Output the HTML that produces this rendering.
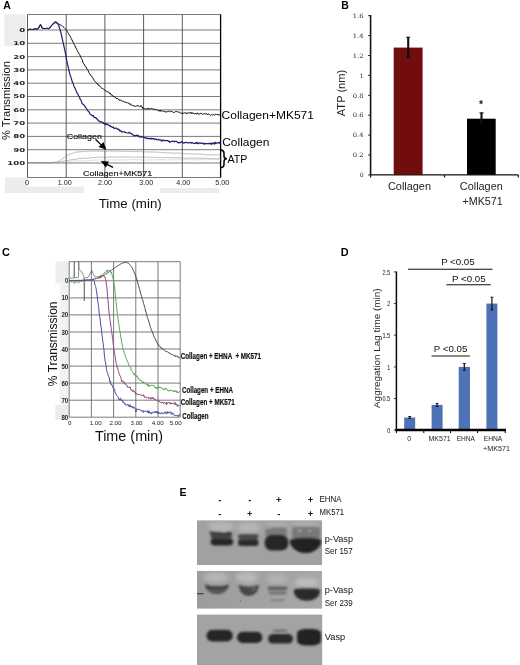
<!DOCTYPE html>
<html lang="en"><head><meta charset="utf-8"><title>Figure</title>
<style>
html,body{margin:0;padding:0;background:#fff;}
body{width:520px;height:665px;overflow:hidden;font-family:"Liberation Sans",sans-serif;}
svg{display:block;}
.ls{font-family:"Liberation Sans",sans-serif;}
.lsb{font-family:"Liberation Sans",sans-serif;font-weight:bold;}
.dv{font-family:"DejaVu Sans",sans-serif;font-weight:bold;fill:#222;}
.dvs{font-family:"DejaVu Serif","Liberation Serif",serif;}
</style></head><body>
<svg width="520" height="665" viewBox="0 0 520 665">
<defs>
<filter id="b1" x="-20%" y="-40%" width="140%" height="180%"><feGaussianBlur stdDeviation="1.0"/></filter>
<filter id="b15" x="-20%" y="-60%" width="140%" height="220%"><feGaussianBlur stdDeviation="1.3"/></filter>
<filter id="b2" x="-30%" y="-80%" width="160%" height="260%"><feGaussianBlur stdDeviation="2.2"/></filter>
<filter id="b12" x="-20%" y="-40%" width="140%" height="180%"><feGaussianBlur stdDeviation="1.3"/></filter>
<filter id="b08" x="-20%" y="-40%" width="140%" height="180%"><feGaussianBlur stdDeviation="0.8"/></filter>
<filter id="soft"><feGaussianBlur stdDeviation="0.4"/></filter>
<linearGradient id="g2" x1="0" x2="1" y1="0" y2="0"><stop offset="0" stop-color="#9c9c9c"/><stop offset="1" stop-color="#a8a8a8"/></linearGradient>
<clipPath id="cb1"><rect x="197.0" y="520.2" width="125.2" height="45"/></clipPath>
<clipPath id="cb2"><rect x="197.0" y="570.8" width="125.2" height="38"/></clipPath>
<clipPath id="cb3"><rect x="197.0" y="614.6" width="125.2" height="51"/></clipPath>
</defs>
<rect width="520" height="665" fill="#fff"/>
<g filter="url(#soft)">
<rect x="4.4" y="14.4" width="21.4" height="31.8" fill="#ededed"/>
<rect x="5" y="177.5" width="22.5" height="15.5" fill="#ececec"/>
<rect x="11.5" y="72" width="5" height="50" fill="#f4f4f4"/>
<rect x="27" y="186.5" width="57" height="6.5" fill="#ececec"/>
<rect x="160" y="188" width="59" height="5" fill="#ececec"/>
<path d="M27.5,14.5H221.0M27.5,30.0H221.0M27.5,43.3H221.0M27.5,56.6H221.0M27.5,69.9H221.0M27.5,83.2H221.0M27.5,96.5H221.0M27.5,109.8H221.0M27.5,123.1H221.0M27.5,136.4H221.0M27.5,149.7H221.0M27.5,163.0H221.0M27.5,177.5H221.0" stroke="#7c7c7c" stroke-width="1.0" fill="none"/>
<path d="M27.5,14.5V177.5M66.2,14.5V177.5M104.9,14.5V177.5M143.6,14.5V177.5M182.3,14.5V177.5" stroke="#4a4a4a" stroke-width="0.9" fill="none"/>
<path d="M220.600,14.5V177.5" stroke="#000" stroke-width="1.3" fill="none"/>
<text transform="translate(25.2,31.9) scale(1.62,1)" text-anchor="end" class="dv" font-size="5.3">0</text>
<text transform="translate(25.2,45.2) scale(1.62,1)" text-anchor="end" class="dv" font-size="5.3">10</text>
<text transform="translate(25.2,58.5) scale(1.62,1)" text-anchor="end" class="dv" font-size="5.3">20</text>
<text transform="translate(25.2,71.8) scale(1.62,1)" text-anchor="end" class="dv" font-size="5.3">30</text>
<text transform="translate(25.2,85.1) scale(1.62,1)" text-anchor="end" class="dv" font-size="5.3">40</text>
<text transform="translate(25.2,98.4) scale(1.62,1)" text-anchor="end" class="dv" font-size="5.3">50</text>
<text transform="translate(25.2,111.7) scale(1.62,1)" text-anchor="end" class="dv" font-size="5.3">60</text>
<text transform="translate(25.2,125.0) scale(1.62,1)" text-anchor="end" class="dv" font-size="5.3">70</text>
<text transform="translate(25.2,138.3) scale(1.62,1)" text-anchor="end" class="dv" font-size="5.3">80</text>
<text transform="translate(25.2,151.6) scale(1.62,1)" text-anchor="end" class="dv" font-size="5.3">90</text>
<text transform="translate(25.2,164.9) scale(1.62,1)" text-anchor="end" class="dv" font-size="5.3">100</text>
<text x="26.9" y="185" text-anchor="middle" class="ls" font-size="7.2" fill="#222">0</text>
<text x="64.7" y="185" text-anchor="middle" class="ls" font-size="7.2" fill="#222">1.00</text>
<text x="105.1" y="185" text-anchor="middle" class="ls" font-size="7.2" fill="#222">2.00</text>
<text x="146.3" y="185" text-anchor="middle" class="ls" font-size="7.2" fill="#222">3.00</text>
<text x="183.2" y="185" text-anchor="middle" class="ls" font-size="7.2" fill="#222">4.00</text>
<text x="222.2" y="185" text-anchor="middle" class="ls" font-size="7.2" fill="#222">5.00</text>
<text x="130.2" y="208.3" text-anchor="middle" class="ls" font-size="13.3" fill="#111">Time (min)</text>
<text transform="translate(9.5,100.6) rotate(-90)" text-anchor="middle" class="ls" font-size="11.2" fill="#111">% Transmission</text>
<text x="3.2" y="9" class="lsb" font-size="10.5">A</text>
<path d="M27.50,162.5 L28.10,162.5 L28.70,162.5 L29.30,162.5 L29.90,162.6 L30.50,162.5 L31.10,162.6 L31.70,162.7 L32.30,162.6 L32.90,162.5 L33.50,162.6 L34.10,162.5 L34.70,162.5 L35.30,162.5 L35.90,162.6 L36.50,162.8 L37.10,162.7 L37.70,162.7 L38.30,162.6 L38.90,162.6 L39.50,162.4 L40.10,162.6 L40.70,162.6 L41.30,162.6 L41.90,162.6 L42.50,162.5 L43.10,162.4 L43.70,162.6 L44.30,162.6 L44.90,162.5 L45.50,162.4 L46.10,162.5 L46.70,162.5 L47.30,162.5 L47.90,162.7 L48.50,162.6 L49.10,162.7 L49.70,162.8 L50.30,162.6 L50.90,162.7 L51.50,162.6 L52.10,162.5 L52.70,162.4 L53.30,162.5 L53.90,162.6 L54.50,162.3 L55.10,162.4 L55.70,162.2 L56.30,162.0 L56.90,162.0 L57.50,161.6 L58.10,161.2 L58.70,161.1 L59.30,160.8 L59.90,160.5 L60.50,160.1 L61.10,159.6 L61.70,159.2 L62.30,159.0 L62.90,158.4 L63.50,158.1 L64.10,157.7 L64.70,157.4 L65.30,156.8 L65.90,156.5 L66.50,156.1 L67.10,155.7 L67.70,155.3 L68.30,154.8 L68.90,154.5 L69.50,154.4 L70.10,154.0 L70.70,153.9 L71.30,153.7 L71.90,153.7 L72.50,153.4 L73.10,153.0 L73.70,152.8 L74.30,152.6 L74.90,152.6 L75.50,152.3 L76.10,152.2 L76.70,152.2 L77.30,152.0 L77.90,151.9 L78.50,151.8 L79.10,151.9 L79.70,151.8 L80.30,151.8 L80.90,151.6 L81.50,151.7 L82.10,151.6 L82.70,151.5 L83.30,151.5 L83.90,151.4 L84.50,151.4 L85.10,151.2 L85.70,151.3 L86.30,151.1 L86.90,151.0 L87.50,151.2 L88.10,151.1 L88.70,151.3 L89.30,151.5 L89.90,151.1 L90.50,151.2 L91.10,151.2 L91.70,151.2 L92.30,151.1 L92.90,151.1 L93.50,151.2 L94.10,151.2 L94.70,151.0 L95.30,151.1 L95.90,151.1 L96.50,151.0 L97.10,151.2 L97.70,151.1 L98.30,151.3 L98.90,151.2 L99.50,151.2 L100.10,151.2 L100.70,151.2 L101.30,151.0 L101.90,151.1 L102.50,151.3 L103.10,151.0 L103.70,151.3 L104.30,151.0 L104.90,151.3 L105.50,151.1 L106.10,151.3 L106.70,151.2 L107.30,151.0 L107.90,151.3 L108.50,151.3 L109.10,151.1 L109.70,151.0 L110.30,151.1 L110.90,151.0 L111.50,151.2 L112.10,151.0 L112.70,151.0 L113.30,151.1 L113.90,151.1 L114.50,150.9 L115.10,151.3 L115.70,151.2 L116.30,151.3 L116.90,151.3 L117.50,151.1 L118.10,151.1 L118.70,151.2 L119.30,151.3 L119.90,151.3 L120.50,151.3 L121.10,151.2 L121.70,151.3 L122.30,151.7 L122.90,151.4 L123.50,151.3 L124.10,151.4 L124.70,151.5 L125.30,151.2 L125.90,151.4 L126.50,151.3 L127.10,151.2 L127.70,151.5 L128.30,151.5 L128.90,151.4 L129.50,151.4 L130.10,151.4 L130.70,151.4 L131.30,151.5 L131.90,151.4 L132.50,151.3 L133.10,151.6 L133.70,151.5 L134.30,151.6 L134.90,151.6 L135.50,151.5 L136.10,151.5 L136.70,151.6 L137.30,151.6 L137.90,151.6 L138.50,151.6 L139.10,151.7 L139.70,151.7 L140.30,151.7 L140.90,151.7 L141.50,151.7 L142.10,151.9 L142.70,151.9 L143.30,151.9 L143.90,151.9 L144.50,151.9 L145.10,151.9 L145.70,151.8 L146.30,151.8 L146.90,152.0 L147.50,151.8 L148.10,152.0 L148.70,152.0 L149.30,152.0 L149.90,152.2 L150.50,152.1 L151.10,151.9 L151.70,151.9 L152.30,152.1 L152.90,152.0 L153.50,152.1 L154.10,152.2 L154.70,152.0 L155.30,151.9 L155.90,152.1 L156.50,152.2 L157.10,152.2 L157.70,152.3 L158.30,152.2 L158.90,152.2 L159.50,152.4 L160.10,152.3 L160.70,152.3 L161.30,152.5 L161.90,152.5 L162.50,152.6 L163.10,152.5 L163.70,152.5 L164.30,152.6 L164.90,152.5 L165.50,152.7 L166.10,152.7 L166.70,152.8 L167.30,152.9 L167.90,153.0 L168.50,152.7 L169.10,153.0 L169.70,153.0 L170.30,153.0 L170.90,152.8 L171.50,152.9 L172.10,153.2 L172.70,153.2 L173.30,153.2 L173.90,153.1 L174.50,153.3 L175.10,153.3 L175.70,153.0 L176.30,153.1 L176.90,152.9 L177.50,152.8 L178.10,153.1 L178.70,153.3 L179.30,153.2 L179.90,153.2 L180.50,153.3 L181.10,153.6 L181.70,153.6 L182.30,153.7 L182.90,153.6 L183.50,153.6 L184.10,153.7 L184.70,153.7 L185.30,153.6 L185.90,153.5 L186.50,153.7 L187.10,153.7 L187.70,153.9 L188.30,153.7 L188.90,153.9 L189.50,153.9 L190.10,153.8 L190.70,154.1 L191.30,154.1 L191.90,153.9 L192.50,154.0 L193.10,153.9 L193.70,153.7 L194.30,153.9 L194.90,153.9 L195.50,154.0 L196.10,153.9 L196.70,153.9 L197.30,153.9 L197.90,154.1 L198.50,154.1 L199.10,154.1 L199.70,154.3 L200.30,154.2 L200.90,154.2 L201.50,154.1 L202.10,154.4 L202.70,154.4 L203.30,154.5 L203.90,154.6 L204.50,154.5 L205.10,154.7 L205.70,154.7 L206.30,154.7 L206.90,154.7 L207.50,154.9 L208.10,154.8 L208.70,154.8 L209.30,154.7 L209.90,154.7 L210.50,155.0 L211.10,155.0 L211.70,155.0 L212.30,154.8 L212.90,154.8 L213.50,154.9 L214.10,155.1 L214.70,155.0 L215.30,154.9 L215.90,154.9 L216.50,155.0 L217.10,154.8 L217.70,154.9 L218.30,154.9 L218.90,155.1 L219.50,155.0 L220.10,155.2 L220.70,155.3" stroke="#777780" stroke-width="0.5" fill="none"/>
<path d="M27.50,162.7 L28.10,162.6 L28.70,162.7 L29.30,162.6 L29.90,162.7 L30.50,162.4 L31.10,162.4 L31.70,162.6 L32.30,162.4 L32.90,162.5 L33.50,162.5 L34.10,162.4 L34.70,162.6 L35.30,162.5 L35.90,162.7 L36.50,162.6 L37.10,162.6 L37.70,162.8 L38.30,162.9 L38.90,162.9 L39.50,162.7 L40.10,162.7 L40.70,162.8 L41.30,162.6 L41.90,162.5 L42.50,162.6 L43.10,162.6 L43.70,162.5 L44.30,162.4 L44.90,162.5 L45.50,162.7 L46.10,162.6 L46.70,162.7 L47.30,162.8 L47.90,162.9 L48.50,162.7 L49.10,162.8 L49.70,162.7 L50.30,162.7 L50.90,162.6 L51.50,162.7 L52.10,162.5 L52.70,162.4 L53.30,162.4 L53.90,162.4 L54.50,162.5 L55.10,162.2 L55.70,162.3 L56.30,162.4 L56.90,162.6 L57.50,162.4 L58.10,162.1 L58.70,162.0 L59.30,162.0 L59.90,161.7 L60.50,161.5 L61.10,161.6 L61.70,161.4 L62.30,161.4 L62.90,161.2 L63.50,161.3 L64.10,161.1 L64.70,161.0 L65.30,160.9 L65.90,160.6 L66.50,160.7 L67.10,160.6 L67.70,160.5 L68.30,160.5 L68.90,160.2 L69.50,160.1 L70.10,160.1 L70.70,159.9 L71.30,159.9 L71.90,159.8 L72.50,159.6 L73.10,159.4 L73.70,159.5 L74.30,159.4 L74.90,159.5 L75.50,159.5 L76.10,159.2 L76.70,158.9 L77.30,158.9 L77.90,158.9 L78.50,158.8 L79.10,158.7 L79.70,158.4 L80.30,158.6 L80.90,158.4 L81.50,158.5 L82.10,158.3 L82.70,158.3 L83.30,158.2 L83.90,158.1 L84.50,158.0 L85.10,157.9 L85.70,158.1 L86.30,158.4 L86.90,158.3 L87.50,158.3 L88.10,158.2 L88.70,158.1 L89.30,158.2 L89.90,157.9 L90.50,157.8 L91.10,157.8 L91.70,157.7 L92.30,157.5 L92.90,157.5 L93.50,157.4 L94.10,157.4 L94.70,157.7 L95.30,157.4 L95.90,157.5 L96.50,157.4 L97.10,157.4 L97.70,157.2 L98.30,157.2 L98.90,157.3 L99.50,157.2 L100.10,157.1 L100.70,157.3 L101.30,157.1 L101.90,157.2 L102.50,157.2 L103.10,157.4 L103.70,157.1 L104.30,157.2 L104.90,157.3 L105.50,157.4 L106.10,157.5 L106.70,157.5 L107.30,157.1 L107.90,157.3 L108.50,157.2 L109.10,157.1 L109.70,157.2 L110.30,157.0 L110.90,156.8 L111.50,157.0 L112.10,156.9 L112.70,157.0 L113.30,157.1 L113.90,157.1 L114.50,157.2 L115.10,157.1 L115.70,157.0 L116.30,157.1 L116.90,157.1 L117.50,157.0 L118.10,157.1 L118.70,157.1 L119.30,156.9 L119.90,157.1 L120.50,157.0 L121.10,157.1 L121.70,157.0 L122.30,157.1 L122.90,157.0 L123.50,157.1 L124.10,156.9 L124.70,156.9 L125.30,156.9 L125.90,156.7 L126.50,156.9 L127.10,156.8 L127.70,156.9 L128.30,156.8 L128.90,157.1 L129.50,157.1 L130.10,157.0 L130.70,156.9 L131.30,157.1 L131.90,157.3 L132.50,157.2 L133.10,157.3 L133.70,157.2 L134.30,157.3 L134.90,157.1 L135.50,157.1 L136.10,157.1 L136.70,157.3 L137.30,157.0 L137.90,157.1 L138.50,157.1 L139.10,157.3 L139.70,157.1 L140.30,157.2 L140.90,157.3 L141.50,157.2 L142.10,157.1 L142.70,157.1 L143.30,156.9 L143.90,157.0 L144.50,157.1 L145.10,157.1 L145.70,157.1 L146.30,157.0 L146.90,157.2 L147.50,157.4 L148.10,157.3 L148.70,157.2 L149.30,157.1 L149.90,157.3 L150.50,157.2 L151.10,157.1 L151.70,157.2 L152.30,157.4 L152.90,157.3 L153.50,157.5 L154.10,157.2 L154.70,157.5 L155.30,157.3 L155.90,157.3 L156.50,157.6 L157.10,157.4 L157.70,157.3 L158.30,157.4 L158.90,157.5 L159.50,157.6 L160.10,157.5 L160.70,157.5 L161.30,157.7 L161.90,157.8 L162.50,157.8 L163.10,157.8 L163.70,157.8 L164.30,157.8 L164.90,157.6 L165.50,157.7 L166.10,157.8 L166.70,157.6 L167.30,157.5 L167.90,157.5 L168.50,157.8 L169.10,157.5 L169.70,157.6 L170.30,157.7 L170.90,157.8 L171.50,157.7 L172.10,157.8 L172.70,157.7 L173.30,157.8 L173.90,157.8 L174.50,157.7 L175.10,157.8 L175.70,157.8 L176.30,157.6 L176.90,157.7 L177.50,157.8 L178.10,157.6 L178.70,157.8 L179.30,157.7 L179.90,158.0 L180.50,158.1 L181.10,158.1 L181.70,157.9 L182.30,158.0 L182.90,158.0 L183.50,158.0 L184.10,158.2 L184.70,158.0 L185.30,158.3 L185.90,158.2 L186.50,158.3 L187.10,158.1 L187.70,158.0 L188.30,158.1 L188.90,158.1 L189.50,158.0 L190.10,158.1 L190.70,158.1 L191.30,157.9 L191.90,158.3 L192.50,158.3 L193.10,158.3 L193.70,158.2 L194.30,158.2 L194.90,158.1 L195.50,158.0 L196.10,158.0 L196.70,158.2 L197.30,157.9 L197.90,158.2 L198.50,158.2 L199.10,158.1 L199.70,158.4 L200.30,158.2 L200.90,158.1 L201.50,158.2 L202.10,158.4 L202.70,158.3 L203.30,158.2 L203.90,158.3 L204.50,158.4 L205.10,158.2 L205.70,158.4 L206.30,158.3 L206.90,158.4 L207.50,158.4 L208.10,158.5 L208.70,158.5 L209.30,158.5 L209.90,158.5 L210.50,158.7 L211.10,158.6 L211.70,158.7 L212.30,158.7 L212.90,158.6 L213.50,158.8 L214.10,158.5 L214.70,158.7 L215.30,158.5 L215.90,158.8 L216.50,158.9 L217.10,158.6 L217.70,158.6 L218.30,158.7 L218.90,158.6 L219.50,158.5 L220.10,158.4 L220.70,158.3" stroke="#777780" stroke-width="0.5" fill="none"/>
<path d="M27.50,162.7 L28.10,162.5 L28.70,162.6 L29.30,162.5 L29.90,162.5 L30.50,162.5 L31.10,162.5 L31.70,162.5 L32.30,162.5 L32.90,162.6 L33.50,162.6 L34.10,162.6 L34.70,162.8 L35.30,162.5 L35.90,162.6 L36.50,162.6 L37.10,162.7 L37.70,162.6 L38.30,162.5 L38.90,162.7 L39.50,162.5 L40.10,162.7 L40.70,162.5 L41.30,162.6 L41.90,162.6 L42.50,162.4 L43.10,162.5 L43.70,162.6 L44.30,162.7 L44.90,162.6 L45.50,162.6 L46.10,162.5 L46.70,162.8 L47.30,162.8 L47.90,162.7 L48.50,162.7 L49.10,162.6 L49.70,162.8 L50.30,162.9 L50.90,162.7 L51.50,162.7 L52.10,162.5 L52.70,162.4 L53.30,162.6 L53.90,162.4 L54.50,162.5 L55.10,162.5 L55.70,162.6 L56.30,162.6 L56.90,162.5 L57.50,162.5 L58.10,162.4 L58.70,162.5 L59.30,162.5 L59.90,162.4 L60.50,162.4 L61.10,162.4 L61.70,162.2 L62.30,162.3 L62.90,162.2 L63.50,162.3 L64.10,162.3 L64.70,162.4 L65.30,161.9 L65.90,161.9 L66.50,162.0 L67.10,161.8 L67.70,161.7 L68.30,161.8 L68.90,161.5 L69.50,161.5 L70.10,161.4 L70.70,161.5 L71.30,161.4 L71.90,161.2 L72.50,161.1 L73.10,161.2 L73.70,161.2 L74.30,161.1 L74.90,161.2 L75.50,161.1 L76.10,160.9 L76.70,161.0 L77.30,161.1 L77.90,160.9 L78.50,160.8 L79.10,160.9 L79.70,160.9 L80.30,161.0 L80.90,160.7 L81.50,161.1 L82.10,160.9 L82.70,161.0 L83.30,161.0 L83.90,161.0 L84.50,160.9 L85.10,160.8 L85.70,160.9 L86.30,160.7 L86.90,160.5 L87.50,160.9 L88.10,160.7 L88.70,160.7 L89.30,160.4 L89.90,160.6 L90.50,160.6 L91.10,160.5 L91.70,160.3 L92.30,160.2 L92.90,160.3 L93.50,160.1 L94.10,160.0 L94.70,160.1 L95.30,160.1 L95.90,160.1 L96.50,160.0 L97.10,160.2 L97.70,160.1 L98.30,160.1 L98.90,160.1 L99.50,159.9 L100.10,160.0 L100.70,160.1 L101.30,159.9 L101.90,160.0 L102.50,159.8 L103.10,160.0 L103.70,160.2 L104.30,159.9 L104.90,160.0 L105.50,159.9 L106.10,159.9 L106.70,160.0 L107.30,160.2 L107.90,160.2 L108.50,160.1 L109.10,160.0 L109.70,160.0 L110.30,159.9 L110.90,160.0 L111.50,159.9 L112.10,160.0 L112.70,160.0 L113.30,160.0 L113.90,160.1 L114.50,159.9 L115.10,160.0 L115.70,159.9 L116.30,160.0 L116.90,160.0 L117.50,160.0 L118.10,160.0 L118.70,159.8 L119.30,159.9 L119.90,159.9 L120.50,159.9 L121.10,160.0 L121.70,160.0 L122.30,159.9 L122.90,160.0 L123.50,159.8 L124.10,160.1 L124.70,159.9 L125.30,159.8 L125.90,160.2 L126.50,160.1 L127.10,159.8 L127.70,160.0 L128.30,159.9 L128.90,159.8 L129.50,159.7 L130.10,159.7 L130.70,159.8 L131.30,159.8 L131.90,159.8 L132.50,159.7 L133.10,159.9 L133.70,159.7 L134.30,159.7 L134.90,159.6 L135.50,159.6 L136.10,159.8 L136.70,159.7 L137.30,159.8 L137.90,159.7 L138.50,159.8 L139.10,159.8 L139.70,159.8 L140.30,159.8 L140.90,160.0 L141.50,159.9 L142.10,159.9 L142.70,159.8 L143.30,160.0 L143.90,159.9 L144.50,160.0 L145.10,160.1 L145.70,160.0 L146.30,159.9 L146.90,160.0 L147.50,159.9 L148.10,159.9 L148.70,159.9 L149.30,159.9 L149.90,159.9 L150.50,160.0 L151.10,159.8 L151.70,159.8 L152.30,159.8 L152.90,160.0 L153.50,159.9 L154.10,160.0 L154.70,159.8 L155.30,159.8 L155.90,159.7 L156.50,159.8 L157.10,159.9 L157.70,159.6 L158.30,159.8 L158.90,159.9 L159.50,159.8 L160.10,159.8 L160.70,159.8 L161.30,159.6 L161.90,159.7 L162.50,159.6 L163.10,159.7 L163.70,159.7 L164.30,159.8 L164.90,159.9 L165.50,159.9 L166.10,159.8 L166.70,160.1 L167.30,160.0 L167.90,159.9 L168.50,159.8 L169.10,159.9 L169.70,160.0 L170.30,159.9 L170.90,159.8 L171.50,159.9 L172.10,160.1 L172.70,159.7 L173.30,159.9 L173.90,159.9 L174.50,159.8 L175.10,160.0 L175.70,159.8 L176.30,159.8 L176.90,160.0 L177.50,159.9 L178.10,159.7 L178.70,159.8 L179.30,159.7 L179.90,159.9 L180.50,159.7 L181.10,159.8 L181.70,159.6 L182.30,159.8 L182.90,159.8 L183.50,159.7 L184.10,159.8 L184.70,159.7 L185.30,159.7 L185.90,159.9 L186.50,159.7 L187.10,159.6 L187.70,159.7 L188.30,159.7 L188.90,159.8 L189.50,159.6 L190.10,159.5 L190.70,159.6 L191.30,159.8 L191.90,159.8 L192.50,159.8 L193.10,159.8 L193.70,159.8 L194.30,159.8 L194.90,159.9 L195.50,159.8 L196.10,159.6 L196.70,159.7 L197.30,159.8 L197.90,159.8 L198.50,159.7 L199.10,159.7 L199.70,159.7 L200.30,159.5 L200.90,159.5 L201.50,159.7 L202.10,159.6 L202.70,159.6 L203.30,159.7 L203.90,159.8 L204.50,159.7 L205.10,159.9 L205.70,159.9 L206.30,159.8 L206.90,159.9 L207.50,159.8 L208.10,159.7 L208.70,159.8 L209.30,159.8 L209.90,159.6 L210.50,159.7 L211.10,159.7 L211.70,159.7 L212.30,159.6 L212.90,159.7 L213.50,159.7 L214.10,159.7 L214.70,159.6 L215.30,159.7 L215.90,159.6 L216.50,159.6 L217.10,159.7 L217.70,159.5 L218.30,159.5 L218.90,159.6 L219.50,159.5 L220.10,159.5 L220.70,159.5" stroke="#a8a8b0" stroke-width="0.4" fill="none"/>
<path d="M27.50,30.0 L28.10,29.8 L28.70,29.6 L29.30,29.4 L29.90,29.2 L30.50,29.3 L31.10,29.4 L31.70,29.5 L32.30,29.5 L32.90,29.4 L33.50,29.2 L34.10,29.0 L34.70,28.9 L35.30,28.9 L35.90,29.0 L36.50,29.1 L37.10,29.1 L37.70,28.8 L38.30,28.5 L38.90,27.6 L39.50,26.3 L40.10,25.0 L40.70,24.7 L41.30,26.2 L41.90,27.7 L42.50,28.2 L43.10,28.3 L43.70,28.5 L44.30,28.6 L44.90,28.5 L45.50,28.5 L46.10,28.5 L46.70,28.4 L47.30,28.4 L47.90,28.5 L48.50,28.6 L49.10,28.5 L49.70,27.8 L50.30,27.0 L50.90,26.3 L51.50,25.6 L52.10,24.9 L52.70,24.3 L53.30,23.8 L53.90,23.2 L54.50,22.7 L55.10,22.6 L55.70,22.8 L56.30,23.0 L56.90,23.2 L57.50,23.4 L58.10,23.7 L58.70,24.0 L59.30,24.3 L59.90,24.6 L60.50,24.9 L61.10,25.2 L61.70,25.5 L62.30,25.9 L62.90,26.5 L63.50,27.1 L64.10,27.6 L64.70,28.2 L65.30,28.8 L65.90,29.4 L66.50,30.3 L67.10,31.3 L67.70,32.3 L68.30,33.2 L68.90,34.2 L69.50,35.2 L70.10,36.2 L70.70,37.4 L71.30,38.6 L71.90,39.8 L72.50,41.0 L73.10,42.2 L73.70,43.4 L74.30,44.6 L74.90,45.8 L75.50,47.0 L76.10,48.2 L76.70,49.4 L77.30,50.6 L77.90,51.8 L78.50,52.9 L79.10,54.2 L79.70,54.6 L80.30,56.1 L80.90,57.3 L81.50,58.7 L82.10,59.4 L82.70,61.8 L83.30,63.3 L83.90,63.8 L84.50,64.9 L85.10,66.4 L85.70,66.8 L86.30,67.1 L86.90,68.8 L87.50,69.5 L88.10,70.4 L88.70,72.4 L89.30,73.2 L89.90,74.1 L90.50,75.2 L91.10,75.5 L91.70,76.1 L92.30,77.5 L92.90,78.1 L93.50,79.0 L94.10,80.2 L94.70,81.0 L95.30,81.7 L95.90,82.5 L96.50,82.9 L97.10,83.8 L97.70,83.8 L98.30,85.3 L98.90,85.1 L99.50,86.0 L100.10,86.2 L100.70,87.0 L101.30,87.8 L101.90,88.6 L102.50,88.4 L103.10,89.0 L103.70,89.2 L104.30,89.7 L104.90,90.0 L105.50,90.8 L106.10,90.7 L106.70,91.5 L107.30,91.8 L107.90,92.1 L108.50,92.2 L109.10,92.5 L109.70,93.9 L110.30,93.2 L110.90,94.8 L111.50,95.0 L112.10,95.2 L112.70,95.3 L113.30,96.5 L113.90,97.1 L114.50,96.7 L115.10,97.1 L115.70,97.9 L116.30,98.0 L116.90,99.0 L117.50,98.5 L118.10,99.1 L118.70,99.0 L119.30,100.6 L119.90,100.1 L120.50,99.9 L121.10,100.8 L121.70,100.7 L122.30,101.7 L122.90,101.1 L123.50,101.3 L124.10,101.7 L124.70,102.1 L125.30,101.8 L125.90,102.7 L126.50,102.7 L127.10,102.7 L127.70,102.7 L128.30,103.0 L128.90,103.1 L129.50,104.3 L130.10,103.7 L130.70,104.8 L131.30,105.1 L131.90,105.2 L132.50,105.4 L133.10,105.8 L133.70,105.9 L134.30,106.1 L134.90,106.1 L135.50,106.4 L136.10,106.0 L136.70,106.1 L137.30,105.3 L137.90,106.2 L138.50,105.9 L139.10,105.8 L139.70,106.5 L140.30,106.3 L140.90,105.5 L141.50,107.0 L142.10,106.7 L142.70,108.2 L143.30,109.0 L143.90,108.1 L144.50,108.7 L145.10,108.7 L145.70,108.9 L146.30,109.2 L146.90,109.2 L147.50,108.3 L148.10,109.2 L148.70,108.3 L149.30,108.7 L149.90,108.9 L150.50,108.6 L151.10,108.3 L151.70,108.5 L152.30,108.8 L152.90,108.9 L153.50,109.3 L154.10,108.7 L154.70,109.5 L155.30,109.5 L155.90,109.7 L156.50,109.7 L157.10,110.4 L157.70,110.3 L158.30,110.6 L158.90,110.6 L159.50,111.3 L160.10,110.1 L160.70,111.3 L161.30,110.9 L161.90,111.0 L162.50,110.9 L163.10,110.9 L163.70,111.4 L164.30,111.4 L164.90,111.9 L165.50,111.4 L166.10,112.4 L166.70,111.7 L167.30,111.6 L167.90,111.5 L168.50,111.3 L169.10,111.2 L169.70,111.2 L170.30,111.6 L170.90,112.0 L171.50,111.3 L172.10,111.7 L172.70,111.7 L173.30,112.4 L173.90,112.9 L174.50,112.1 L175.10,111.8 L175.70,111.5 L176.30,111.6 L176.90,111.3 L177.50,112.0 L178.10,111.9 L178.70,112.2 L179.30,112.2 L179.90,112.5 L180.50,113.3 L181.10,113.0 L181.70,113.1 L182.30,112.9 L182.90,113.8 L183.50,113.0 L184.10,113.2 L184.70,112.8 L185.30,112.5 L185.90,113.4 L186.50,113.9 L187.10,112.7 L187.70,113.5 L188.30,113.0 L188.90,112.5 L189.50,112.9 L190.10,112.7 L190.70,112.6 L191.30,113.7 L191.90,112.4 L192.50,113.4 L193.10,113.6 L193.70,113.3 L194.30,113.7 L194.90,113.8 L195.50,113.6 L196.10,113.8 L196.70,113.9 L197.30,112.8 L197.90,114.1 L198.50,114.3 L199.10,114.1 L199.70,114.0 L200.30,113.1 L200.90,113.6 L201.50,113.7 L202.10,113.7 L202.70,114.5 L203.30,113.8 L203.90,114.0 L204.50,113.6 L205.10,114.0 L205.70,113.9 L206.30,113.7 L206.90,113.8 L207.50,114.9 L208.10,113.9 L208.70,114.2 L209.30,114.4 L209.90,115.1 L210.50,115.6 L211.10,114.9 L211.70,114.7 L212.30,114.8 L212.90,115.0 L213.50,114.6 L214.10,115.2 L214.70,115.1 L215.30,114.3 L215.90,114.3 L216.50,114.4 L217.10,115.0 L217.70,114.1 L218.30,115.1 L218.90,114.7 L219.50,114.9 L220.10,115.1 L220.70,114.9" stroke="#0a0a0a" stroke-width="1.0" fill="none" stroke-linejoin="round"/>
<path d="M27.50,30.0 L28.10,29.8 L28.70,29.6 L29.30,29.4 L29.90,29.2 L30.50,29.3 L31.10,29.4 L31.70,29.5 L32.30,29.5 L32.90,29.4 L33.50,29.2 L34.10,29.0 L34.70,28.9 L35.30,28.9 L35.90,29.0 L36.50,29.1 L37.10,29.1 L37.70,28.8 L38.30,28.5 L38.90,27.6 L39.50,26.3 L40.10,25.0 L40.70,24.7 L41.30,26.2 L41.90,27.7 L42.50,28.2 L43.10,28.3 L43.70,28.5 L44.30,28.6 L44.90,28.5 L45.50,28.5 L46.10,28.5 L46.70,28.4 L47.30,28.4 L47.90,28.5 L48.50,28.6 L49.10,28.5 L49.70,27.8 L50.30,27.0 L50.90,26.3 L51.50,25.6 L52.10,24.9 L52.70,24.3 L53.30,23.8 L53.90,23.2 L54.50,22.7 L55.10,21.7 L55.70,22.0 L56.30,22.3 L56.90,22.6 L57.50,23.5 L58.10,24.5 L58.70,25.5 L59.30,27.1 L59.90,29.2 L60.50,31.3 L61.10,33.5 L61.70,36.2 L62.30,38.9 L62.90,41.6 L63.50,44.3 L64.10,47.0 L64.70,49.7 L65.30,52.6 L65.90,55.7 L66.50,59.3 L67.10,62.2 L67.70,64.9 L68.30,67.1 L68.90,70.5 L69.50,72.7 L70.10,75.0 L70.70,76.4 L71.30,78.6 L71.90,80.5 L72.50,82.4 L73.10,83.1 L73.70,85.4 L74.30,87.4 L74.90,87.9 L75.50,89.3 L76.10,90.9 L76.70,92.2 L77.30,93.5 L77.90,93.9 L78.50,95.9 L79.10,96.3 L79.70,97.9 L80.30,99.5 L80.90,100.1 L81.50,101.6 L82.10,103.6 L82.70,103.9 L83.30,104.7 L83.90,104.9 L84.50,105.9 L85.10,106.7 L85.70,107.6 L86.30,108.2 L86.90,109.3 L87.50,110.6 L88.10,111.0 L88.70,111.6 L89.30,112.4 L89.90,113.9 L90.50,114.1 L91.10,114.7 L91.70,115.4 L92.30,115.3 L92.90,116.0 L93.50,115.7 L94.10,117.3 L94.70,117.4 L95.30,117.8 L95.90,117.5 L96.50,118.8 L97.10,118.8 L97.70,119.6 L98.30,120.6 L98.90,120.9 L99.50,121.1 L100.10,122.1 L100.70,121.6 L101.30,122.0 L101.90,122.1 L102.50,122.3 L103.10,123.1 L103.70,122.6 L104.30,124.1 L104.90,123.5 L105.50,124.6 L106.10,123.7 L106.70,124.5 L107.30,123.9 L107.90,124.4 L108.50,125.2 L109.10,125.6 L109.70,125.4 L110.30,126.5 L110.90,126.2 L111.50,126.9 L112.10,127.1 L112.70,127.5 L113.30,127.0 L113.90,128.3 L114.50,128.6 L115.10,128.1 L115.70,128.2 L116.30,128.2 L116.90,128.4 L117.50,129.3 L118.10,129.5 L118.70,129.1 L119.30,130.1 L119.90,131.2 L120.50,130.6 L121.10,130.9 L121.70,132.1 L122.30,131.9 L122.90,132.0 L123.50,131.7 L124.10,131.5 L124.70,132.0 L125.30,132.5 L125.90,132.6 L126.50,132.8 L127.10,133.0 L127.70,133.0 L128.30,133.1 L128.90,132.5 L129.50,132.2 L130.10,133.1 L130.70,133.4 L131.30,133.6 L131.90,134.3 L132.50,134.1 L133.10,134.9 L133.70,135.6 L134.30,135.9 L134.90,135.6 L135.50,135.7 L136.10,135.3 L136.70,135.2 L137.30,135.6 L137.90,136.1 L138.50,135.5 L139.10,136.4 L139.70,137.1 L140.30,137.0 L140.90,136.3 L141.50,137.2 L142.10,137.0 L142.70,136.7 L143.30,136.8 L143.90,137.3 L144.50,137.6 L145.10,137.7 L145.70,138.5 L146.30,138.0 L146.90,137.9 L147.50,138.7 L148.10,138.4 L148.70,138.7 L149.30,138.1 L149.90,138.8 L150.50,138.5 L151.10,139.0 L151.70,138.2 L152.30,139.0 L152.90,138.6 L153.50,138.5 L154.10,138.9 L154.70,139.6 L155.30,139.0 L155.90,138.9 L156.50,139.7 L157.10,140.0 L157.70,139.8 L158.30,139.2 L158.90,139.6 L159.50,140.1 L160.10,139.9 L160.70,139.9 L161.30,140.8 L161.90,141.1 L162.50,140.2 L163.10,139.9 L163.70,140.6 L164.30,140.5 L164.90,140.7 L165.50,140.7 L166.10,140.6 L166.70,140.4 L167.30,140.8 L167.90,140.6 L168.50,141.3 L169.10,141.2 L169.70,142.4 L170.30,141.9 L170.90,141.5 L171.50,141.3 L172.10,141.5 L172.70,141.0 L173.30,141.2 L173.90,141.2 L174.50,141.8 L175.10,141.3 L175.70,141.5 L176.30,141.3 L176.90,141.6 L177.50,142.4 L178.10,142.7 L178.70,143.0 L179.30,142.3 L179.90,142.8 L180.50,142.4 L181.10,142.3 L181.70,141.6 L182.30,141.7 L182.90,142.9 L183.50,143.1 L184.10,142.6 L184.70,143.0 L185.30,142.4 L185.90,142.3 L186.50,142.3 L187.10,142.9 L187.70,142.8 L188.30,142.7 L188.90,142.7 L189.50,143.0 L190.10,142.8 L190.70,142.3 L191.30,143.2 L191.90,142.6 L192.50,142.6 L193.10,143.3 L193.70,143.5 L194.30,143.2 L194.90,143.6 L195.50,143.0 L196.10,143.3 L196.70,142.4 L197.30,143.6 L197.90,142.8 L198.50,143.7 L199.10,143.1 L199.70,142.9 L200.30,142.8 L200.90,143.3 L201.50,143.3 L202.10,143.4 L202.70,143.2 L203.30,143.8 L203.90,143.2 L204.50,144.1 L205.10,143.8 L205.70,143.6 L206.30,143.8 L206.90,143.6 L207.50,143.5 L208.10,143.8 L208.70,143.4 L209.30,143.4 L209.90,144.0 L210.50,143.2 L211.10,143.6 L211.70,144.4 L212.30,142.9 L212.90,143.5 L213.50,143.8 L214.10,142.8 L214.70,144.1 L215.30,142.2 L215.90,143.4 L216.50,143.1 L217.10,142.9 L217.70,142.7 L218.30,143.0 L218.90,142.6 L219.50,143.1 L220.10,142.2 L220.70,142.7" stroke="#20206c" stroke-width="1.2" fill="none" stroke-linejoin="round"/>
<text x="66.7" y="138.6" class="ls" font-size="8.1" fill="#111" stroke="#111" stroke-width="0.15" textLength="35.2" lengthAdjust="spacingAndGlyphs">Collagen</text>
<text x="83" y="175.7" class="ls" font-size="7.9" fill="#111" stroke="#111" stroke-width="0.15" textLength="69.3" lengthAdjust="spacingAndGlyphs">Collagen+MK571</text>
<path d="M95.6,139.5L101.5,145.1" stroke="#000" stroke-width="1.3"/><path d="M106.4,149.8L98.6,147.1L103.4,142.1Z" fill="#000"/>
<path d="M113,167.4L107,164.3" stroke="#000" stroke-width="1.3"/><path d="M100.8,161L108.9,161.6L105.9,167.4Z" fill="#000"/>
<text x="221.6" y="118.6" class="ls" font-size="10.7" fill="#000" textLength="92.3" lengthAdjust="spacingAndGlyphs">Collagen+MK571</text>
<text x="222.2" y="146.4" class="ls" font-size="10.7" fill="#000" textLength="47.2" lengthAdjust="spacingAndGlyphs">Collagen</text>
<text x="227.5" y="163.4" class="ls" font-size="10.7" fill="#000">ATP</text>
<path d="M220.8,149.9c2.6,0.2 3.2,1.4 3.2,3.2v3c0,1.600 0.800,2.500 2.800,2.700c-2,0.200 -2.800,1.100 -2.800,2.700v3c0,1.800 -0.600,3 -3.200,3.200" stroke="#000" stroke-width="1.5" fill="none"/>
<text x="341.3" y="9" class="lsb" font-size="10.5">B</text>
<text x="363.6" y="177.1" text-anchor="end" class="dvs" font-size="6" fill="#2a2a2a" textLength="3.9" lengthAdjust="spacingAndGlyphs">0</text>
<path d="M368.20000000000005,174.9H370.6" stroke="#1a1a1a" stroke-width="1"/>
<text x="363.6" y="157.2" text-anchor="end" class="dvs" font-size="6" fill="#2a2a2a" textLength="10.8" lengthAdjust="spacingAndGlyphs">0.2</text>
<path d="M368.20000000000005,155.0H370.6" stroke="#1a1a1a" stroke-width="1"/>
<text x="363.6" y="137.3" text-anchor="end" class="dvs" font-size="6" fill="#2a2a2a" textLength="10.8" lengthAdjust="spacingAndGlyphs">0.4</text>
<path d="M368.20000000000005,135.1H370.6" stroke="#1a1a1a" stroke-width="1"/>
<text x="363.6" y="117.4" text-anchor="end" class="dvs" font-size="6" fill="#2a2a2a" textLength="10.8" lengthAdjust="spacingAndGlyphs">0.6</text>
<path d="M368.20000000000005,115.2H370.6" stroke="#1a1a1a" stroke-width="1"/>
<text x="363.6" y="97.5" text-anchor="end" class="dvs" font-size="6" fill="#2a2a2a" textLength="10.8" lengthAdjust="spacingAndGlyphs">0.8</text>
<path d="M368.20000000000005,95.3H370.6" stroke="#1a1a1a" stroke-width="1"/>
<text x="363.6" y="77.6" text-anchor="end" class="dvs" font-size="6" fill="#2a2a2a" textLength="3.9" lengthAdjust="spacingAndGlyphs">1</text>
<path d="M368.20000000000005,75.4H370.6" stroke="#1a1a1a" stroke-width="1"/>
<text x="363.6" y="57.7" text-anchor="end" class="dvs" font-size="6" fill="#2a2a2a" textLength="10.8" lengthAdjust="spacingAndGlyphs">1.2</text>
<path d="M368.20000000000005,55.5H370.6" stroke="#1a1a1a" stroke-width="1"/>
<text x="363.6" y="37.8" text-anchor="end" class="dvs" font-size="6" fill="#2a2a2a" textLength="10.8" lengthAdjust="spacingAndGlyphs">1.4</text>
<path d="M368.20000000000005,35.6H370.6" stroke="#1a1a1a" stroke-width="1"/>
<text x="363.6" y="17.9" text-anchor="end" class="dvs" font-size="6" fill="#2a2a2a" textLength="10.8" lengthAdjust="spacingAndGlyphs">1.6</text>
<path d="M368.20000000000005,15.7H370.6" stroke="#1a1a1a" stroke-width="1"/>
<rect x="393.7" y="47.6" width="28.9" height="127.3" fill="#72110d"/>
<rect x="467" y="118.7" width="28.7" height="56.2" fill="#050505"/>
<path d="M370.6,15V175.5" stroke="#161616" stroke-width="1.6" fill="none"/>
<path d="M370.6,174.9H518.3M370.6,174.9v2.6M444.5,174.9v2.6M518.3,174.9v2.6" stroke="#161616" stroke-width="1.2" fill="none"/>
<path d="M408.2,37V57.8" stroke="#111" stroke-width="2.1" fill="none"/><path d="M406.2,37.3h4M406.2,57.6h4" stroke="#111" stroke-width="1.1" fill="none"/>
<path d="M481.5,112.6V124" stroke="#111" stroke-width="2.1" fill="none"/><path d="M479.5,112.9h4" stroke="#111" stroke-width="1.1" fill="none"/>
<text x="481" y="107.6" text-anchor="middle" class="lsb" font-size="10.4" fill="#222">*</text>
<text x="409.5" y="190" text-anchor="middle" class="ls" font-size="10.9" fill="#222">Collagen</text>
<text x="481.3" y="190" text-anchor="middle" class="ls" font-size="10.9" fill="#222">Collagen</text>
<text x="482.6" y="204.8" text-anchor="middle" class="ls" font-size="10.7" fill="#222">+MK571</text>
<text transform="translate(345.1,93) rotate(-90)" text-anchor="middle" class="ls" font-size="11.1" fill="#222">ATP (nm)</text>
<text x="1.9" y="255.8" class="lsb" font-size="10.9">C</text>
<rect x="55.4" y="261.3" width="13.8" height="22" fill="#eeeeee"/>
<rect x="55.4" y="405" width="14" height="15" fill="#ececec"/>
<rect x="59.6" y="283" width="9.6" height="122" fill="#f2f2f2"/>
<path d="M69.2,261.7H180.2M69.2,280.8H180.2M69.2,297.9H180.2M69.2,314.9H180.2M69.2,332.0H180.2M69.2,349.0H180.2M69.2,366.1H180.2M69.2,383.1H180.2M69.2,400.2H180.2M69.2,417.2H180.2M69.2,261.7V417.2M91.4,261.7V417.2M113.6,261.7V417.2M135.8,261.7V417.2M158.0,261.7V417.2M180.2,261.7V417.2" stroke="#6c6c6c" stroke-width="0.9" fill="none"/>
<text x="68.3" y="283.3" text-anchor="end" class="lsb" font-size="7" fill="#2a2a2a" textLength="3.2" lengthAdjust="spacingAndGlyphs">0</text>
<text x="68.3" y="300.4" text-anchor="end" class="lsb" font-size="7" fill="#2a2a2a" textLength="6.9" lengthAdjust="spacingAndGlyphs">10</text>
<text x="68.3" y="317.4" text-anchor="end" class="lsb" font-size="7" fill="#2a2a2a" textLength="6.9" lengthAdjust="spacingAndGlyphs">20</text>
<text x="68.3" y="334.5" text-anchor="end" class="lsb" font-size="7" fill="#2a2a2a" textLength="6.9" lengthAdjust="spacingAndGlyphs">30</text>
<text x="68.3" y="351.5" text-anchor="end" class="lsb" font-size="7" fill="#2a2a2a" textLength="6.9" lengthAdjust="spacingAndGlyphs">40</text>
<text x="68.3" y="368.6" text-anchor="end" class="lsb" font-size="7" fill="#2a2a2a" textLength="6.9" lengthAdjust="spacingAndGlyphs">50</text>
<text x="68.3" y="385.6" text-anchor="end" class="lsb" font-size="7" fill="#2a2a2a" textLength="6.9" lengthAdjust="spacingAndGlyphs">60</text>
<text x="68.3" y="402.7" text-anchor="end" class="lsb" font-size="7" fill="#2a2a2a" textLength="6.9" lengthAdjust="spacingAndGlyphs">70</text>
<text x="68.3" y="419.7" text-anchor="end" class="lsb" font-size="7" fill="#2a2a2a" textLength="6.9" lengthAdjust="spacingAndGlyphs">80</text>
<text x="69.8" y="424.6" text-anchor="middle" class="ls" font-size="6.2" fill="#222">0</text>
<text x="95.7" y="424.6" text-anchor="middle" class="ls" font-size="6.2" fill="#222">1.00</text>
<text x="115.4" y="424.6" text-anchor="middle" class="ls" font-size="6.2" fill="#222">2.00</text>
<text x="136.5" y="424.6" text-anchor="middle" class="ls" font-size="6.2" fill="#222">3.00</text>
<text x="157.7" y="424.6" text-anchor="middle" class="ls" font-size="6.2" fill="#222">4.00</text>
<text x="175.7" y="424.6" text-anchor="middle" class="ls" font-size="6.2" fill="#222">5.00</text>
<text x="129" y="441.4" text-anchor="middle" class="ls" font-size="14.4" fill="#111">Time (min)</text>
<text transform="translate(57.2,343.8) rotate(-90)" text-anchor="middle" class="ls" font-size="12" fill="#111">% Transmission</text>
<path d="M69.20,278.2 L73.95,278.0 L74.25,261.8 L74.55,277.8 L78.45,277.4 L78.75,261.8 L79.20,269.6 L81.00,271.0 L83.00,274.5 L83.95,277.0 L84.30,301.0 L84.65,278.0 L88.00,277.4 L90.00,274.0 L91.70,270.2 L93.40,274.5 L95.00,277.0 L101.50,276.4" stroke="#4a4a50" stroke-width="0.6" fill="none" stroke-linejoin="round"/>
<path d="M101.60,276.3 L101.90,276.2 L102.20,276.0 L102.50,275.9 L102.80,275.7 L103.10,275.5 L103.40,275.4 L103.70,275.2 L104.00,275.1 L104.30,274.9 L104.60,274.7 L104.90,274.6 L105.20,274.4 L105.50,274.3 L105.80,274.1 L106.10,273.9 L106.40,273.7 L106.70,273.5 L107.00,273.3 L107.30,273.1 L107.60,272.9 L107.90,272.7 L108.20,272.5 L108.50,272.3 L108.80,272.0 L109.10,271.8 L109.40,271.6 L109.70,271.4 L110.00,271.2 L110.30,271.0 L110.60,270.8 L110.90,270.6 L111.20,270.4 L111.50,270.2 L111.80,269.9 L112.10,269.7 L112.40,269.5 L112.70,269.3 L113.00,269.1 L113.30,268.9 L113.60,268.7 L113.90,268.5 L114.20,268.3 L114.50,268.1 L114.80,267.8 L115.10,267.6 L115.40,267.4 L115.70,267.2 L116.00,267.0 L116.30,266.8 L116.60,266.6 L116.90,266.4 L117.20,266.2 L117.50,266.0 L117.80,265.8 L118.10,265.7 L118.40,265.5 L118.70,265.3 L119.00,265.1 L119.30,264.9 L119.60,264.7 L119.90,264.5 L120.20,264.3 L120.50,264.1 L120.80,263.9 L121.10,263.8 L121.40,263.6 L121.70,263.5 L122.00,263.4 L122.30,263.3 L122.60,263.2 L122.90,263.0 L123.20,262.9 L123.50,262.8 L123.80,262.7 L124.10,262.6 L124.40,262.6 L124.70,262.5 L125.00,262.5 L125.30,262.5 L125.60,262.5 L125.90,262.4 L126.20,262.4 L126.50,262.4 L126.80,262.5 L127.10,262.7 L127.40,262.8 L127.70,263.0 L128.00,263.1 L128.30,263.3 L128.60,263.4 L128.90,263.6 L129.20,263.9 L129.50,264.2 L129.80,264.6 L130.10,265.0 L130.40,265.4 L130.70,265.8 L131.00,266.2 L131.30,266.6 L131.60,267.0 L131.90,267.4 L132.20,267.9 L132.50,268.6 L132.80,269.3 L133.10,269.9 L133.40,270.6 L133.70,271.2 L134.00,271.9 L134.30,272.6 L134.60,273.2 L134.90,273.9 L135.20,274.6 L135.50,275.3 L135.80,276.3 L136.10,277.3 L136.40,278.3 L136.70,279.2 L137.00,280.2 L137.30,281.2 L137.60,282.2 L137.90,283.2 L138.20,284.2 L138.50,285.3 L138.80,286.4 L139.10,287.4 L139.40,288.5 L139.70,289.6 L140.00,290.6 L140.30,292.0 L140.60,293.4 L140.90,294.5 L141.20,295.2 L141.50,296.3 L141.80,297.7 L142.10,298.7 L142.40,299.4 L142.70,300.1 L143.00,301.0 L143.30,302.4 L143.60,303.6 L143.90,304.6 L144.20,305.0 L144.50,306.8 L144.80,307.4 L145.10,308.7 L145.40,310.0 L145.70,311.0 L146.00,312.2 L146.30,313.1 L146.60,314.3 L146.90,315.2 L147.20,316.8 L147.50,317.5 L147.80,318.5 L148.10,319.4 L148.40,320.0 L148.70,321.2 L149.00,321.9 L149.30,323.2 L149.60,324.4 L149.90,325.2 L150.20,326.5 L150.50,327.4 L150.80,328.3 L151.10,329.4 L151.40,330.3 L151.70,330.4 L152.00,331.3 L152.30,331.5 L152.60,332.7 L152.90,333.5 L153.20,334.1 L153.50,335.5 L153.80,336.5 L154.10,336.6 L154.40,337.3 L154.70,337.8 L155.00,338.7 L155.30,338.8 L155.60,339.6 L155.90,340.8 L156.20,340.9 L156.50,341.6 L156.80,342.2 L157.10,342.6 L157.40,343.2 L157.70,343.7 L158.00,343.7 L158.30,344.5 L158.60,345.4 L158.90,345.7 L159.20,345.5 L159.50,345.9 L159.80,346.3 L160.10,347.2 L160.40,347.5 L160.70,347.5 L161.00,347.5 L161.30,347.5 L161.60,348.1 L161.90,348.6 L162.20,348.6 L162.50,348.8 L162.80,349.2 L163.10,349.2 L163.40,349.2 L163.70,349.3 L164.00,349.8 L164.30,350.2 L164.60,350.4 L164.90,350.6 L165.20,351.0 L165.50,351.5 L165.80,351.3 L166.10,351.5 L166.40,351.4 L166.70,351.8 L167.00,351.9 L167.30,351.7 L167.60,351.8 L167.90,352.1 L168.20,352.5 L168.50,352.7 L168.80,353.0 L169.10,353.0 L169.40,352.9 L169.70,353.0 L170.00,353.2 L170.30,354.0 L170.60,353.9 L170.90,354.1 L171.20,354.2 L171.50,354.3 L171.80,354.3 L172.10,354.7 L172.40,355.0 L172.70,354.9 L173.00,355.2 L173.30,355.2 L173.60,355.1 L173.90,355.4 L174.20,355.5 L174.50,356.1 L174.80,355.4 L175.10,355.7 L175.40,356.5 L175.70,356.0 L176.00,355.8 L176.30,355.9 L176.60,356.1 L176.90,356.0 L177.20,356.4 L177.50,356.3 L177.80,356.3 L178.10,357.4 L178.40,357.0 L178.70,357.1 L179.00,357.1 L179.30,357.6 L179.60,357.8 L179.90,358.0" stroke="#2c2c32" stroke-width="0.9" fill="none" stroke-linejoin="round"/>
<path d="M69.20,283.3 L69.60,282.8 L70.00,281.9 L70.40,281.2 L70.80,281.2 L71.20,281.9 L71.60,281.3 L72.00,282.3 L72.40,281.8 L72.80,281.8 L73.20,282.2 L73.60,282.1 L74.00,281.6 L74.40,282.2 L74.80,283.5 L75.20,281.6 L75.60,281.7 L76.00,282.2 L76.40,281.7 L76.80,281.3 L77.20,280.7 L77.60,282.1 L78.00,282.6 L78.40,282.7 L78.80,281.9 L79.20,282.3 L79.60,281.4 L80.00,281.9 L80.40,281.1 L80.80,281.2 L81.20,281.4 L81.60,281.5 L82.00,280.2 L82.40,281.3 L82.80,280.2 L83.20,279.9 L83.60,280.2 L84.00,279.6 L84.40,280.4 L84.80,280.6 L85.20,280.3 L85.60,280.6 L86.00,280.2 L86.40,280.2 L86.80,279.5 L87.20,280.0 L87.60,279.7 L88.00,279.8 L88.40,280.1 L88.80,280.3 L89.20,279.7 L89.60,279.9 L90.00,280.8 L90.40,280.9 L90.80,280.6 L91.20,280.9 L91.60,280.7 L92.00,280.2 L92.40,279.9 L92.80,279.2 L93.20,279.1 L93.60,279.0 L94.00,279.1 L94.40,279.0 L94.80,278.9 L95.20,278.4 L95.60,278.5 L96.00,278.3 L96.40,278.4 L96.80,278.3 L97.20,278.0 L97.60,277.6 L98.00,278.4 L98.40,278.2 L98.80,277.3 L99.20,277.1 L99.60,278.4 L100.00,276.2 L100.40,275.9 L100.80,275.8 L101.20,274.7 L101.60,275.4 L102.00,276.2 L102.40,275.6 L102.80,274.8 L103.20,274.4 L103.60,273.6 L104.00,273.6 L104.40,272.8 L104.80,272.1 L105.20,271.9 L105.60,272.4 L106.00,271.9 L106.40,271.8 L106.80,269.9 L107.20,271.1 L107.60,271.8 L108.00,270.9 L108.40,270.1 L108.80,270.1 L109.20,270.8 L109.60,270.4 L110.00,271.7 L110.40,271.2 L110.80,272.7 L111.20,273.1 L111.60,271.9 L112.00,274.9 L112.40,275.9 L112.80,277.2 L113.20,279.1 L113.60,280.7 L114.00,283.6 L114.40,285.7 L114.80,290.3 L115.20,294.1 L115.60,297.5 L116.00,301.4 L116.40,305.0 L116.80,308.8 L117.20,312.8 L117.60,315.5 L118.00,318.6 L118.40,321.9 L118.80,324.1 L119.20,326.6 L119.60,329.8 L120.00,331.3 L120.40,334.3 L120.80,337.3 L121.20,339.3 L121.60,342.2 L122.00,343.5 L122.40,346.3 L122.80,348.3 L123.20,349.5 L123.60,350.1 L124.00,352.1 L124.40,353.5 L124.80,353.6 L125.20,355.8 L125.60,356.7 L126.00,357.6 L126.40,359.2 L126.80,360.1 L127.20,360.1 L127.60,361.7 L128.00,362.3 L128.40,364.0 L128.80,364.3 L129.20,366.4 L129.60,366.6 L130.00,367.1 L130.40,367.4 L130.80,367.5 L131.20,370.2 L131.60,370.2 L132.00,371.3 L132.40,371.6 L132.80,372.5 L133.20,373.7 L133.60,373.4 L134.00,374.6 L134.40,373.3 L134.80,375.3 L135.20,374.9 L135.60,375.3 L136.00,376.0 L136.40,376.6 L136.80,377.2 L137.20,375.6 L137.60,376.9 L138.00,377.4 L138.40,379.2 L138.80,378.7 L139.20,379.1 L139.60,379.3 L140.00,380.5 L140.40,381.0 L140.80,380.4 L141.20,380.7 L141.60,380.4 L142.00,382.2 L142.40,382.7 L142.80,381.9 L143.20,383.3 L143.60,381.7 L144.00,382.3 L144.40,382.8 L144.80,383.0 L145.20,383.6 L145.60,383.9 L146.00,383.8 L146.40,384.6 L146.80,384.3 L147.20,383.9 L147.60,384.3 L148.00,386.4 L148.40,384.3 L148.80,385.4 L149.20,386.7 L149.60,385.8 L150.00,385.0 L150.40,385.6 L150.80,385.8 L151.20,385.7 L151.60,385.0 L152.00,385.4 L152.40,385.3 L152.80,385.9 L153.20,386.0 L153.60,385.2 L154.00,385.3 L154.40,386.6 L154.80,387.8 L155.20,387.6 L155.60,387.3 L156.00,388.7 L156.40,387.0 L156.80,388.3 L157.20,387.1 L157.60,387.4 L158.00,387.4 L158.40,388.4 L158.80,386.9 L159.20,387.6 L159.60,386.7 L160.00,387.6 L160.40,387.2 L160.80,387.6 L161.20,387.1 L161.60,388.1 L162.00,388.8 L162.40,388.6 L162.80,389.4 L163.20,389.6 L163.60,389.0 L164.00,388.5 L164.40,389.6 L164.80,388.9 L165.20,389.4 L165.60,387.9 L166.00,388.1 L166.40,388.5 L166.80,388.7 L167.20,390.0 L167.60,390.5 L168.00,390.4 L168.40,391.0 L168.80,391.3 L169.20,390.3 L169.60,391.0 L170.00,391.1 L170.40,389.8 L170.80,390.5 L171.20,391.1 L171.60,390.3 L172.00,390.5 L172.40,390.4 L172.80,390.8 L173.20,391.9 L173.60,391.4 L174.00,391.5 L174.40,390.4 L174.80,392.0 L175.20,390.9 L175.60,390.9 L176.00,391.9 L176.40,392.4 L176.80,390.8 L177.20,392.5 L177.60,392.2 L178.00,392.3 L178.40,392.9 L178.80,391.8 L179.20,391.6 L179.60,391.5 L180.00,391.7" stroke="#5aa455" stroke-width="1.0" fill="none" stroke-linejoin="round"/>
<path d="M69.20,280.6 L69.60,280.6 L70.00,280.6 L70.40,280.6 L70.80,280.6 L71.20,280.6 L71.60,280.6 L72.00,280.5 L72.40,280.5 L72.80,280.5 L73.20,280.5 L73.60,280.5 L74.00,280.5 L74.40,280.5 L74.80,280.5 L75.20,280.5 L75.60,280.5 L76.00,280.5 L76.40,280.5 L76.80,280.5 L77.20,280.4 L77.60,280.4 L78.00,280.4 L78.40,280.4 L78.80,280.4 L79.20,280.4 L79.60,280.4 L80.00,280.4 L80.40,280.4 L80.80,280.4 L81.20,280.4 L81.60,280.4 L82.00,280.4 L82.40,280.3 L82.80,280.3 L83.20,280.3 L83.60,280.3 L84.00,280.3 L84.40,280.3 L84.80,280.3 L85.20,280.3 L85.60,280.3 L86.00,280.3 L86.40,280.3 L86.80,280.3 L87.20,280.3 L87.60,280.2 L88.00,280.2 L88.40,280.2 L88.80,280.2 L89.20,280.2 L89.60,280.2 L90.00,280.2 L90.40,280.1 L90.80,280.0 L91.20,279.9 L91.60,279.8 L92.00,279.7 L92.40,279.6 L92.80,279.5 L93.20,279.4 L93.60,279.3 L94.00,279.2 L94.40,279.1 L94.80,279.0 L95.20,278.9 L95.60,278.8 L96.00,278.7 L96.40,278.6 L96.80,278.5 L97.20,278.4 L97.60,278.1 L98.00,277.9 L98.40,277.6 L98.80,277.4 L99.20,277.1 L99.60,276.9 L100.00,277.1 L100.40,275.9 L100.80,277.8 L101.20,276.9 L101.60,276.8 L102.00,276.4 L102.40,275.5 L102.80,275.6 L103.20,275.9 L103.60,275.9 L104.00,276.0 L104.40,276.7 L104.80,276.4 L105.20,278.2 L105.60,279.4 L106.00,280.3 L106.40,285.1 L106.80,286.8 L107.20,291.3 L107.60,297.0 L108.00,300.4 L108.40,304.6 L108.80,310.7 L109.20,314.0 L109.60,316.2 L110.00,320.4 L110.40,322.0 L110.80,325.0 L111.20,328.3 L111.60,331.2 L112.00,334.0 L112.40,337.2 L112.80,339.7 L113.20,343.9 L113.60,346.6 L114.00,350.0 L114.40,352.2 L114.80,354.3 L115.20,356.6 L115.60,359.4 L116.00,362.5 L116.40,363.9 L116.80,364.9 L117.20,367.8 L117.60,367.6 L118.00,370.2 L118.40,370.6 L118.80,372.5 L119.20,373.9 L119.60,374.8 L120.00,375.9 L120.40,376.2 L120.80,377.4 L121.20,379.2 L121.60,381.4 L122.00,380.0 L122.40,380.6 L122.80,381.0 L123.20,382.5 L123.60,381.5 L124.00,382.0 L124.40,383.6 L124.80,382.8 L125.20,384.6 L125.60,384.6 L126.00,384.4 L126.40,384.9 L126.80,384.9 L127.20,385.6 L127.60,387.4 L128.00,387.4 L128.40,387.1 L128.80,387.6 L129.20,387.2 L129.60,388.0 L130.00,386.7 L130.40,387.7 L130.80,389.7 L131.20,390.4 L131.60,389.7 L132.00,390.0 L132.40,391.0 L132.80,391.8 L133.20,390.2 L133.60,390.8 L134.00,391.8 L134.40,392.1 L134.80,391.4 L135.20,393.1 L135.60,392.4 L136.00,394.5 L136.40,393.5 L136.80,393.3 L137.20,393.7 L137.60,394.5 L138.00,394.7 L138.40,394.1 L138.80,395.0 L139.20,394.6 L139.60,394.8 L140.00,394.5 L140.40,394.4 L140.80,394.8 L141.20,394.8 L141.60,395.7 L142.00,395.7 L142.40,395.2 L142.80,394.9 L143.20,396.2 L143.60,394.8 L144.00,395.2 L144.40,397.2 L144.80,397.1 L145.20,397.6 L145.60,397.1 L146.00,396.7 L146.40,397.5 L146.80,398.1 L147.20,397.5 L147.60,398.0 L148.00,397.5 L148.40,397.5 L148.80,398.9 L149.20,398.6 L149.60,397.7 L150.00,397.7 L150.40,398.2 L150.80,399.2 L151.20,397.9 L151.60,398.5 L152.00,397.1 L152.40,397.6 L152.80,398.7 L153.20,399.0 L153.60,397.6 L154.00,398.5 L154.40,399.8 L154.80,399.0 L155.20,399.1 L155.60,399.6 L156.00,400.0 L156.40,400.7 L156.80,400.4 L157.20,399.7 L157.60,400.4 L158.00,400.5 L158.40,400.5 L158.80,400.5 L159.20,402.0 L159.60,401.0 L160.00,402.4 L160.40,402.5 L160.80,402.4 L161.20,402.8 L161.60,402.6 L162.00,403.1 L162.40,402.0 L162.80,402.3 L163.20,402.5 L163.60,403.8 L164.00,403.0 L164.40,402.2 L164.80,402.7 L165.20,402.7 L165.60,403.4 L166.00,403.4 L166.40,404.9 L166.80,402.3 L167.20,403.9 L167.60,403.2 L168.00,402.3 L168.40,402.9 L168.80,402.6 L169.20,402.5 L169.60,403.3 L170.00,402.2 L170.40,404.1 L170.80,403.1 L171.20,404.0 L171.60,402.9 L172.00,403.8 L172.40,403.7 L172.80,403.9 L173.20,403.3 L173.60,402.7 L174.00,403.4 L174.40,404.0 L174.80,404.7 L175.20,402.3 L175.60,403.7 L176.00,405.1 L176.40,403.8 L176.80,404.4 L177.20,406.3 L177.60,405.8 L178.00,404.8 L178.40,406.2 L178.80,405.7 L179.20,405.6 L179.60,405.4 L180.00,404.9" stroke="#924878" stroke-width="1.0" fill="none" stroke-linejoin="round"/>
<path d="M69.20,280.4 L69.60,280.4 L70.00,280.4 L70.40,280.4 L70.80,280.4 L71.20,280.4 L71.60,280.4 L72.00,280.4 L72.40,280.4 L72.80,280.4 L73.20,280.4 L73.60,280.4 L74.00,280.4 L74.40,280.4 L74.80,280.4 L75.20,280.4 L75.60,280.4 L76.00,280.4 L76.40,280.4 L76.80,280.4 L77.20,280.4 L77.60,280.4 L78.00,280.4 L78.40,280.4 L78.80,280.4 L79.20,280.4 L79.60,280.4 L80.00,280.4 L80.40,280.4 L80.80,280.4 L81.20,280.4 L81.60,280.4 L82.00,280.4 L82.40,280.4 L82.80,280.4 L83.20,280.4 L83.60,280.4 L84.00,280.4 L84.40,280.4 L84.80,280.3 L85.20,280.3 L85.60,280.3 L86.00,280.2 L86.40,280.2 L86.80,280.2 L87.20,280.1 L87.60,280.1 L88.00,280.1 L88.40,280.0 L88.80,280.0 L89.20,280.0 L89.60,279.9 L90.00,279.9 L90.40,279.9 L90.80,279.8 L91.20,279.8 L91.60,279.9 L92.00,280.0 L92.40,280.0 L92.80,280.1 L93.20,279.5 L93.60,280.4 L94.00,280.9 L94.40,281.9 L94.80,283.9 L95.20,285.6 L95.60,286.5 L96.00,288.1 L96.40,290.7 L96.80,293.5 L97.20,296.2 L97.60,299.8 L98.00,302.3 L98.40,305.4 L98.80,308.7 L99.20,313.2 L99.60,316.3 L100.00,318.0 L100.40,321.4 L100.80,325.8 L101.20,327.5 L101.60,331.4 L102.00,334.7 L102.40,337.6 L102.80,341.2 L103.20,344.1 L103.60,347.7 L104.00,350.0 L104.40,355.9 L104.80,358.3 L105.20,361.6 L105.60,363.1 L106.00,365.6 L106.40,368.5 L106.80,370.7 L107.20,372.5 L107.60,372.8 L108.00,374.7 L108.40,376.0 L108.80,376.6 L109.20,377.9 L109.60,380.0 L110.00,382.1 L110.40,381.0 L110.80,383.8 L111.20,384.7 L111.60,384.1 L112.00,385.1 L112.40,386.1 L112.80,387.5 L113.20,387.7 L113.60,388.1 L114.00,389.5 L114.40,389.0 L114.80,390.7 L115.20,392.9 L115.60,392.9 L116.00,393.8 L116.40,394.6 L116.80,395.6 L117.20,396.1 L117.60,396.5 L118.00,396.7 L118.40,397.5 L118.80,399.4 L119.20,400.0 L119.60,399.6 L120.00,398.3 L120.40,398.2 L120.80,399.8 L121.20,400.5 L121.60,399.8 L122.00,399.9 L122.40,399.9 L122.80,402.4 L123.20,402.1 L123.60,401.8 L124.00,402.9 L124.40,404.0 L124.80,403.1 L125.20,404.9 L125.60,404.9 L126.00,405.0 L126.40,405.1 L126.80,404.4 L127.20,404.6 L127.60,405.1 L128.00,404.4 L128.40,406.0 L128.80,405.7 L129.20,406.6 L129.60,407.1 L130.00,404.6 L130.40,407.0 L130.80,405.9 L131.20,406.8 L131.60,406.4 L132.00,407.2 L132.40,408.1 L132.80,406.5 L133.20,407.9 L133.60,408.1 L134.00,407.1 L134.40,408.5 L134.80,408.7 L135.20,408.9 L135.60,409.2 L136.00,411.9 L136.40,409.7 L136.80,408.6 L137.20,409.1 L137.60,409.7 L138.00,409.4 L138.40,409.4 L138.80,408.9 L139.20,409.9 L139.60,409.4 L140.00,409.5 L140.40,410.0 L140.80,410.3 L141.20,411.3 L141.60,410.8 L142.00,410.0 L142.40,410.8 L142.80,411.3 L143.20,412.4 L143.60,410.8 L144.00,411.0 L144.40,411.8 L144.80,411.2 L145.20,411.2 L145.60,411.0 L146.00,410.7 L146.40,411.6 L146.80,412.0 L147.20,412.2 L147.60,410.8 L148.00,411.9 L148.40,413.2 L148.80,410.7 L149.20,411.8 L149.60,412.9 L150.00,412.2 L150.40,413.5 L150.80,412.6 L151.20,413.1 L151.60,414.1 L152.00,412.3 L152.40,412.6 L152.80,412.6 L153.20,411.9 L153.60,412.1 L154.00,411.5 L154.40,412.1 L154.80,413.1 L155.20,412.8 L155.60,412.3 L156.00,411.3 L156.40,412.9 L156.80,411.2 L157.20,411.9 L157.60,413.4 L158.00,411.9 L158.40,413.6 L158.80,412.9 L159.20,412.9 L159.60,412.6 L160.00,413.8 L160.40,413.4 L160.80,414.1 L161.20,413.6 L161.60,412.5 L162.00,413.5 L162.40,413.7 L162.80,413.1 L163.20,412.8 L163.60,413.5 L164.00,413.8 L164.40,412.3 L164.80,412.7 L165.20,413.0 L165.60,411.7 L166.00,412.2 L166.40,414.0 L166.80,413.9 L167.20,411.6 L167.60,411.9 L168.00,413.4 L168.40,412.2 L168.80,412.3 L169.20,412.4 L169.60,412.9 L170.00,411.6 L170.40,411.8 L170.80,412.6 L171.20,414.3 L171.60,413.6 L172.00,412.5 L172.40,414.1 L172.80,414.3 L173.20,413.7 L173.60,413.5 L174.00,414.3 L174.40,415.5 L174.80,415.0 L175.20,415.6 L175.60,415.3 L176.00,415.4 L176.40,415.4 L176.80,416.1 L177.20,415.5 L177.60,415.4 L178.00,416.5 L178.40,416.1 L178.80,416.2 L179.20,414.4 L179.60,415.6 L180.00,414.8" stroke="#4848a2" stroke-width="1.0" fill="none" stroke-linejoin="round"/>
<text x="180.7" y="358.9" class="lsb" font-size="8.7" fill="#111" stroke="#111" stroke-width="0.2" textLength="80.4" lengthAdjust="spacingAndGlyphs" xml:space="preserve">Collagen + EHNA  + MK571</text>
<text x="181.9" y="393.2" class="lsb" font-size="8.7" fill="#111" stroke="#111" stroke-width="0.2" textLength="51" lengthAdjust="spacingAndGlyphs" xml:space="preserve">Collagen + EHNA</text>
<text x="180.7" y="405.3" class="lsb" font-size="8.7" fill="#111" stroke="#111" stroke-width="0.2" textLength="54" lengthAdjust="spacingAndGlyphs" xml:space="preserve">Collagen + MK571</text>
<text x="182.3" y="418.6" class="lsb" font-size="8.7" fill="#111" stroke="#111" stroke-width="0.2" textLength="26.2" lengthAdjust="spacingAndGlyphs" xml:space="preserve">Collagen</text>
<text x="340.7" y="255.8" class="lsb" font-size="10.9">D</text>
<text x="390.2" y="432.9" text-anchor="end" class="ls" font-size="7.4" fill="#111" textLength="3.0" lengthAdjust="spacingAndGlyphs">0</text>
<path d="M393.8,430.2H396.0" stroke="#111" stroke-width="0.8"/>
<text x="390.2" y="401.2" text-anchor="end" class="ls" font-size="7.4" fill="#111" textLength="7.7" lengthAdjust="spacingAndGlyphs">0.5</text>
<path d="M393.8,398.6H396.0" stroke="#111" stroke-width="0.8"/>
<text x="390.2" y="369.6" text-anchor="end" class="ls" font-size="7.4" fill="#111" textLength="3.0" lengthAdjust="spacingAndGlyphs">1</text>
<path d="M393.8,366.9H396.0" stroke="#111" stroke-width="0.8"/>
<text x="390.2" y="337.9" text-anchor="end" class="ls" font-size="7.4" fill="#111" textLength="7.7" lengthAdjust="spacingAndGlyphs">1.5</text>
<path d="M393.8,335.2H396.0" stroke="#111" stroke-width="0.8"/>
<text x="390.2" y="306.3" text-anchor="end" class="ls" font-size="7.4" fill="#111" textLength="3.0" lengthAdjust="spacingAndGlyphs">2</text>
<path d="M393.8,303.6H396.0" stroke="#111" stroke-width="0.8"/>
<text x="390.2" y="274.6" text-anchor="end" class="ls" font-size="7.4" fill="#111" textLength="7.7" lengthAdjust="spacingAndGlyphs">2.5</text>
<path d="M393.8,271.9H396.0" stroke="#111" stroke-width="0.8"/>
<rect x="404.2" y="417.5" width="11" height="12.7" fill="#4d72b6"/>
<path d="M409.7,416.5V418.5" stroke="#111" stroke-width="1.2" fill="none"/><path d="M408.2,416.5h3M408.2,418.5h3" stroke="#111" stroke-width="0.9" fill="none"/>
<rect x="431.6" y="404.9" width="11" height="25.3" fill="#4d72b6"/>
<path d="M437.1,403.4V406.4" stroke="#111" stroke-width="1.2" fill="none"/><path d="M435.6,403.4h3M435.6,406.4h3" stroke="#111" stroke-width="0.9" fill="none"/>
<rect x="458.7" y="366.9" width="11.3" height="63.3" fill="#4d72b6"/>
<path d="M464.3,363.6V370.2" stroke="#111" stroke-width="1.2" fill="none"/><path d="M462.8,363.6h3M462.8,370.2h3" stroke="#111" stroke-width="0.9" fill="none"/>
<rect x="486.4" y="303.6" width="11" height="126.6" fill="#4d72b6"/>
<path d="M491.9,297.2V310.0" stroke="#111" stroke-width="1.2" fill="none"/><path d="M490.4,297.2h3M490.4,310.0h3" stroke="#111" stroke-width="0.9" fill="none"/>
<path d="M396.4,271.4V430.2" stroke="#111" stroke-width="1.5"/>
<path d="M395.4,430.0H506.0" stroke="#000" stroke-width="2.3"/>
<path d="M396.4,430.2v2.9M423.8,430.2v2.9M450.6,430.2v2.9M477.6,430.2v2.9M505.2,430.2v2.9" stroke="#000" stroke-width="1"/>
<text x="457.9" y="265.2" text-anchor="middle" class="ls" font-size="9.7" fill="#111">P &lt;0.05</text>
<path d="M408,269.2H492.6" stroke="#111" stroke-width="1.1"/>
<text x="468.8" y="282.2" text-anchor="middle" class="ls" font-size="9.7" fill="#111">P &lt;0.05</text>
<path d="M446.4,284.7H490.8" stroke="#111" stroke-width="1.1"/>
<text x="450.6" y="352.2" text-anchor="middle" class="ls" font-size="9.7" fill="#111">P &lt;0.05</text>
<path d="M431.6,356H470" stroke="#111" stroke-width="1.1"/>
<text transform="translate(379.6,408) rotate(-90)" class="ls" font-size="8.4" fill="#222" textLength="119.6" lengthAdjust="spacingAndGlyphs">Aggregation Lag time (min)</text>
<text x="409.2" y="441.4" text-anchor="middle" class="ls" font-size="7.8" fill="#222" textLength="3.9" lengthAdjust="spacingAndGlyphs">0</text>
<text x="428.5" y="441.4" class="ls" font-size="7.8" fill="#222" textLength="22.3" lengthAdjust="spacingAndGlyphs">MK571</text>
<text x="456.7" y="441.4" class="ls" font-size="7.8" fill="#222" textLength="18.2" lengthAdjust="spacingAndGlyphs">EHNA</text>
<text x="483.7" y="441.4" class="ls" font-size="7.8" fill="#222" textLength="18.6" lengthAdjust="spacingAndGlyphs">EHNA</text>
<text x="483.1" y="451.4" class="ls" font-size="7.8" fill="#222" textLength="26.9" lengthAdjust="spacingAndGlyphs">+MK571</text>
<text x="179.6" y="496.4" class="lsb" font-size="10.5">E</text>
<text x="219.8" y="503.2" text-anchor="middle" class="lsb" font-size="9.5" fill="#1a1a1a">-</text>
<text x="249.8" y="503.2" text-anchor="middle" class="lsb" font-size="9.5" fill="#1a1a1a">-</text>
<text x="278.8" y="503.2" text-anchor="middle" class="lsb" font-size="9.4" fill="#1a1a1a">+</text>
<text x="310.4" y="503.2" text-anchor="middle" class="lsb" font-size="9.4" fill="#1a1a1a">+</text>
<text x="219.8" y="517.0" text-anchor="middle" class="lsb" font-size="9.5" fill="#1a1a1a">-</text>
<text x="249.8" y="517.0" text-anchor="middle" class="lsb" font-size="9.4" fill="#1a1a1a">+</text>
<text x="278.8" y="517.0" text-anchor="middle" class="lsb" font-size="9.5" fill="#1a1a1a">-</text>
<text x="310.4" y="517.0" text-anchor="middle" class="lsb" font-size="9.4" fill="#1a1a1a">+</text>
<text x="319.6" y="502" class="ls" font-size="8.5" fill="#0c0c0c" textLength="21.9" lengthAdjust="spacingAndGlyphs">EHNA</text>
<text x="319.6" y="515.1" class="ls" font-size="8.5" fill="#0c0c0c" textLength="24.4" lengthAdjust="spacingAndGlyphs">MK571</text>
<g clip-path="url(#cb1)"><rect x="197.0" y="520.2" width="125.2" height="45" fill="#a1a1a1"/>
<g filter="url(#b2)">
<ellipse cx="221" cy="526.4" rx="13" ry="4.4" fill="#b8b8b8"/><ellipse cx="249" cy="527.5" rx="12" ry="5" fill="#b6b6b6"/><ellipse cx="277" cy="524.6" rx="12" ry="3" fill="#afafaf"/><ellipse cx="306" cy="523.6" rx="14" ry="2.6" fill="#b0b0b0"/>
</g><g filter="url(#b12)">
<rect x="211" y="532.4" width="20.6" height="7" rx="3" fill="#4a4a4a"/>
<rect x="239" y="535" width="18.6" height="6" rx="3" fill="#4e4e4e"/>
<rect x="265.4" y="527.6" width="21.6" height="9" rx="3.5" fill="#7a7a7a"/>
<rect x="292" y="527" width="28" height="12" rx="3.5" fill="#787878"/>
</g><g filter="url(#b08)">
<path d="M209.8,531.6q11,3.4 21.8,0.4v3q-10.800,2.600 -21.800,-0.400z" fill="#3e3e3e"/>
<rect x="238" y="534.8" width="20.400" height="2.800" rx="1.400" fill="#484848"/>
<rect x="210.600" y="538.2" width="22.600" height="7.200" rx="3.600" fill="#272727"/>
<rect x="238" y="539.4" width="20.600" height="6.600" rx="3.300" fill="#2b2b2b"/>
<rect x="264.600" y="535" width="23.800" height="15.600" rx="7" fill="#272727"/>
<path d="M289.800,541.600c0,-2.400 2.600,-3.600 15.800,-3.600s15.800,1.200 15.800,3.600c0,3.400 -2.400,6.400 -6.400,8.800c-2.600,1.600 -5.400,2.600 -9.400,2.600s-6.800,-1 -9.400,-2.600c-4,-2.400 -6.400,-5.400 -6.400,-8.800z" fill="#222"/>
<ellipse cx="224.200" cy="530.6" rx="1.900" ry="1.200" fill="#b8b8b8"/><ellipse cx="269.400" cy="527.6" rx="1.800" ry="1.200" fill="#b2b2b2"/><ellipse cx="299.600" cy="530.800" rx="1.900" ry="1.300" fill="#b0b0b0"/><ellipse cx="309.800" cy="530.800" rx="1.800" ry="1.200" fill="#a4a4a4"/>
</g></g>
<g clip-path="url(#cb2)"><rect x="197.0" y="570.8" width="125.2" height="38" fill="url(#g2)"/>
<g filter="url(#b2)">
<ellipse cx="216" cy="577.4" rx="12" ry="5" fill="#b6b6b6"/><ellipse cx="247" cy="577.4" rx="11" ry="5.5" fill="#b9b9b9"/><ellipse cx="277" cy="579" rx="10" ry="5" fill="#b3b3b3"/><ellipse cx="307" cy="582.6" rx="12" ry="4.6" fill="#bebebe"/>
</g><g filter="url(#b15)">
<path d="M205,584.4C211,587 223,587 228.800,584.4C228.800,589.6 224,594.2 217,594.2C210,594.2 205,589.6 205,584.4Z" fill="#565656"/>
<path d="M205.600,586C211,588.4 223,588.4 228.200,586" stroke="#3c3c3c" stroke-width="2.400" fill="none"/>
<path d="M239.400,586.4C244,588.800 254,588.800 258.200,586.4" stroke="#383838" stroke-width="2.400" fill="none"/>
<path d="M238.800,584.8C244,587.4 254,587.4 258.800,584.8C258.800,591 255,596 248.800,596C242.600,596 238.800,591 238.800,584.8Z" fill="#484848"/>
<rect x="267.600" y="586.6" width="19.800" height="3.600" rx="1.800" fill="#5e5e5e"/>
<rect x="268.600" y="591.8" width="18" height="2.600" rx="1.300" fill="#707070"/>
<rect x="270" y="599" width="15" height="2.200" rx="1.100" fill="#848484"/>
<path d="M293.800,590.8c0,-1.800 3,-2.200 13.100,-2.200s13.100,0.400 13.100,2.200c0,5.600 -5,10 -13.100,10s-13.100,-4.400 -13.100,-10z" fill="#2c2c2c"/>
<ellipse cx="253.800" cy="589" rx="1.800" ry="1" fill="#7a7a7a"/>
</g>
<path d="M196.400,593.800h7.200" stroke="#2a2a2a" stroke-width="1.100"/><circle cx="240.600" cy="601" r="0.600" fill="#444"/>
</g>
<g clip-path="url(#cb3)"><rect x="197.0" y="614.6" width="125.2" height="51" fill="#a3a3a3"/>
<g filter="url(#b08)">
<rect x="206.400" y="629.8" width="26.400" height="11.800" rx="5.900" fill="#262626"/>
<rect x="237" y="631.8" width="25.400" height="11.200" rx="5.600" fill="#282828"/>
<rect x="268" y="634" width="25" height="9.600" rx="4.800" fill="#2a2a2a"/>
<rect x="273" y="629.8" width="14.400" height="2.200" rx="1.100" fill="#6a6a6a"/>
<path d="M297,634.6c0,-4 2.600,-5.600 12,-5.600s12,1.600 12,5.600v4.800c0,4 -3,6 -12,6s-12,-2 -12,-6z" fill="#202020"/>
</g></g>
<text x="324.800" y="541.5" class="ls" font-size="9.500" fill="#111" textLength="28.200" lengthAdjust="spacingAndGlyphs">p-Vasp</text>
<text x="324.800" y="553.6" class="ls" font-size="9.400" fill="#111" textLength="27.900" lengthAdjust="spacingAndGlyphs">Ser 157</text>
<text x="324.800" y="593.4" class="ls" font-size="9.500" fill="#111" textLength="28.200" lengthAdjust="spacingAndGlyphs">p-Vasp</text>
<text x="324.800" y="605.6" class="ls" font-size="9.400" fill="#111" textLength="27.900" lengthAdjust="spacingAndGlyphs">Ser 239</text>
<text x="324.800" y="640" class="ls" font-size="9.500" fill="#111" textLength="20.400" lengthAdjust="spacingAndGlyphs">Vasp</text>
</g>
</svg>
</body></html>
